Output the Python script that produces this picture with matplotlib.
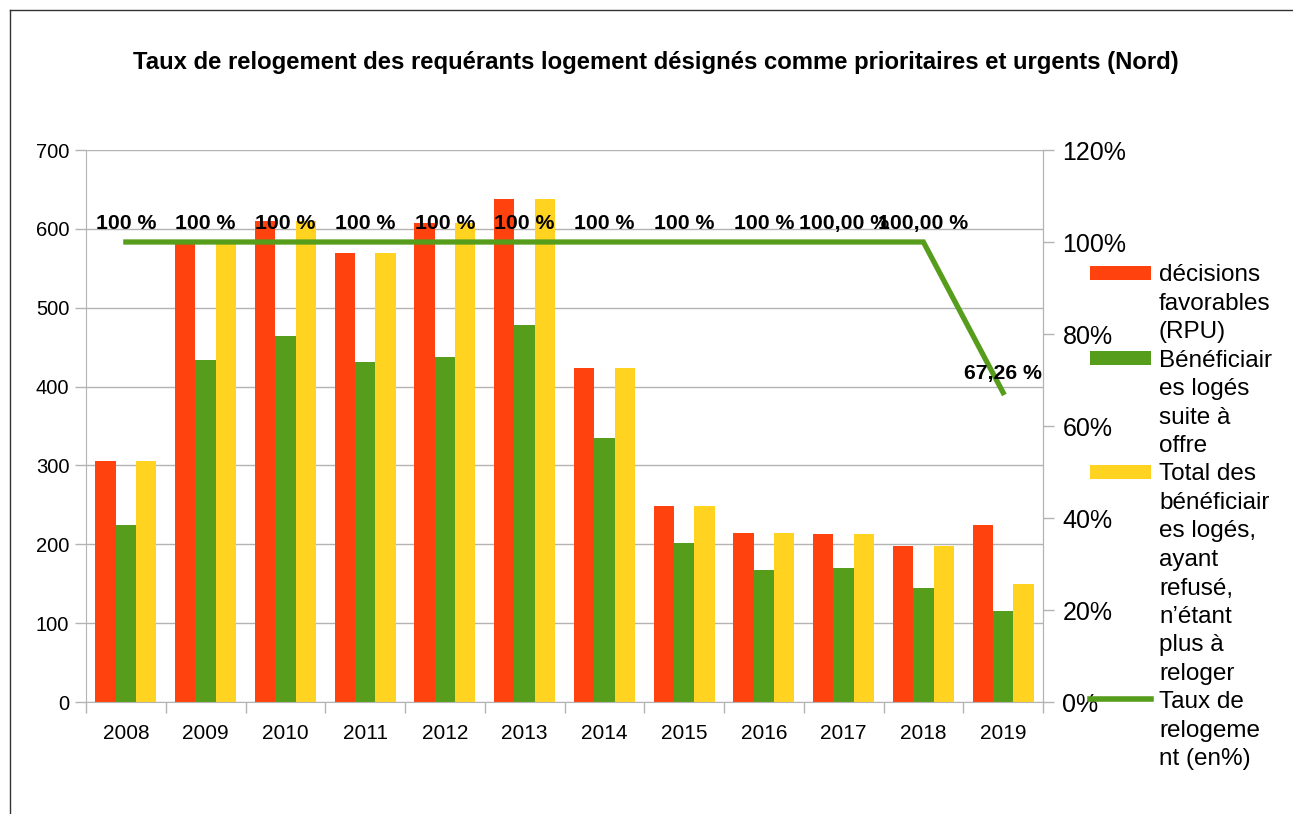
import numpy as np
import matplotlib
matplotlib.use('Agg')
import matplotlib.pyplot as plt
from matplotlib.patches import Rectangle
from matplotlib.lines import Line2D
from matplotlib.ticker import FuncFormatter

plt.rcParams['font.family'] = ['Liberation Sans', 'DejaVu Sans']

# data
years = ['2008', '2009', '2010', '2011', '2012', '2013',
         '2014', '2015', '2016', '2017', '2018', '2019']
decisions = [306, 583, 610, 570, 608, 638, 424, 249, 214, 213, 198, 224]
beneficiaires = [224, 434, 464, 431, 437, 478, 335, 201, 168, 170, 144, 115]
total_loges = [306, 583, 610, 570, 608, 638, 424, 249, 214, 213, 198, 150]
taux = [100, 100, 100, 100, 100, 100, 100, 100, 100, 100, 100, 67.26]
taux_labels = ['100 %', '100 %', '100 %', '100 %', '100 %', '100 %',
               '100 %', '100 %', '100 %', '100,00 %', '100,00 %', '67,26 %']

series_names = ['décisions\nfavorables\n(RPU)',
                'Bénéficiair\nes logés\nsuite à\noffre',
                'Total des\nbénéficiair\nes logés,\nayant\nrefusé,\nn’étant\nplus à\nreloger',
                'Taux de\nrelogeme\nnt (en%)']

red = '#ff420e'
green = '#579d1c'
yellow = '#ffd320'
grid_col = '#b3b3b3'

W, H = 1293, 814
fig = plt.figure(figsize=(W / 100, H / 100), dpi=100)

# axes box in pixels: left 86, right 1043, top 150, bottom 702
ax = fig.add_axes([86 / W, 1 - 702 / H, (1043 - 86) / W, (702 - 150) / H])
x = np.arange(len(years))
w = 0.255
ax.bar(x - w, decisions, w, color=red)
ax.bar(x, beneficiaires, w, color=green)
ax.bar(x + w, total_loges, w, color=yellow)

ax.set_xlim(-0.5, len(years) - 0.5)
ax.set_ylim(0, 700)
ax.set_yticks(range(0, 701, 100))
ax.set_axisbelow(True)
ax.yaxis.grid(True, color=grid_col, lw=1)
ax.set_xticks(x)
ax.set_xticklabels(years)
ax.set_xticks(np.arange(-0.5, len(years), 1), minor=True)
ax.tick_params(axis='x', which='major', length=0, labelsize=15, pad=16)
ax.tick_params(axis='x', which='minor', length=8, color=grid_col, width=1)
ax.tick_params(axis='y', length=8, color=grid_col, width=1, labelsize=14.5, pad=4)
for side in ['left', 'bottom', 'right']:
    ax.spines[side].set_color(grid_col)
ax.spines['top'].set_visible(False)

ax2 = ax.twinx()
ax2.plot(x, taux, color=green, lw=3.8, solid_joinstyle='miter')
ax2.set_ylim(0, 120)
ax2.set_yticks(range(0, 121, 20))
ax2.yaxis.set_major_formatter(FuncFormatter(lambda v, p: '%d%%' % v))
ax2.tick_params(axis='y', length=8, color=grid_col, width=1, labelsize=18, pad=6)
for s in ax2.spines.values():
    s.set_visible(False)
ax2.spines['right'].set_visible(True)
ax2.spines['right'].set_color(grid_col)
for xi, v, lab in zip(x, taux, taux_labels):
    ax2.annotate(lab, (xi, v), xytext=(0, 13.5), textcoords='offset points',
                 ha='center', va='center', fontsize=15.3, fontweight='bold')

fig.text(656 / W, 1 - 62 / H,
         'Taux de relogement des requérants logement désignés comme prioritaires et urgents (Nord)',
         ha='center', va='center', fontsize=17.2, fontweight='bold')

# legend drawn by hand: key aligned with the first line of each wrapped label
pitch = 28.5
first_line = 272.5
line_no = 0
for name, kind, col in zip(series_names, ['bar', 'bar', 'bar', 'line'],
                           [red, green, yellow, green]):
    yc = first_line + line_no * pitch
    if kind == 'bar':
        fig.add_artist(Rectangle((1090 / W, 1 - (yc + 7) / H), 61 / W, 14 / H,
                                 color=col, lw=0))
    else:
        fig.add_artist(Line2D([1090 / W, 1151 / W], [1 - (yc - 1) / H, 1 - (yc - 1) / H],
                              color=col, lw=4))
    for part in name.split('\n'):
        yc = first_line + line_no * pitch
        fig.text(1159 / W, 1 - (yc + 8.5) / H, part, ha='left', va='baseline',
                 fontsize=17.5)
        line_no += 1

# outer chart frame
fig.add_artist(Line2D([10 / W, 1], [1 - 10 / H, 1 - 10 / H], color='#333333', lw=1))
fig.add_artist(Line2D([10 / W, 10 / W], [0, 1 - 10 / H], color='#333333', lw=1))

fig.savefig('out.png', dpi=100)
